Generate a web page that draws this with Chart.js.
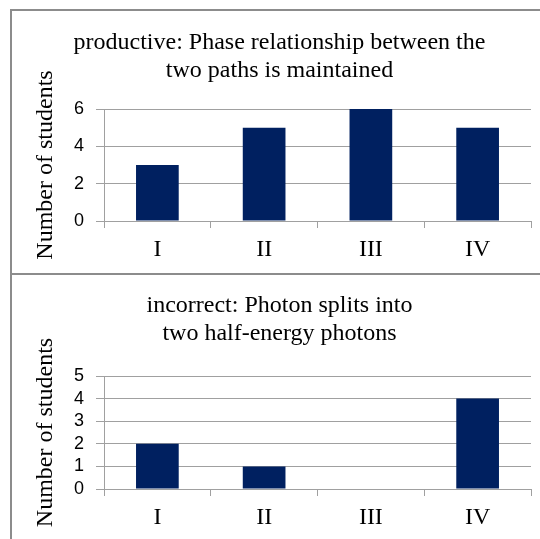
<!DOCTYPE html>
<html>
<head>
<meta charset="utf-8">
<script src="https://cdn.jsdelivr.net/npm/chart.js@4/dist/chart.umd.min.js"></script>
<style>
  body { margin: 0; background: #fff; overflow: hidden; width: 540px; height: 539px; position: relative; }
  .panel { position: absolute; left: 10px; width: 560px; border-left: 2px solid #8c8c8c; border-top: 2px solid #8c8c8c; }
  #topPanel { top: 9px; height: 262px; }
  #bottomPanel { top: 273px; height: 264px; }
  canvas { display: block; }
</style>
</head>
<body>
<div class="panel" id="topPanel"><canvas id="productive-chart" width="528" height="262"></canvas></div>
<div class="panel" id="bottomPanel"><canvas id="incorrect-chart" width="528" height="264"></canvas></div>
<script>
const categories = ['I', 'II', 'III', 'IV'];

const productiveTitle = ['productive: Phase relationship between the', 'two paths is maintained'];
const productiveCounts = [3, 5, 6, 5];
const productiveTicks = [0, 2, 4, 6];

const incorrectTitle = ['incorrect: Photon splits into', 'two half-energy photons'];
const incorrectCounts = [2, 1, 0, 4];
const incorrectTicks = [0, 1, 2, 3, 4, 5];

const yTitle = 'Number of students';

document.addEventListener("DOMContentLoaded", mainJs);

function makeChart(id, titleLines, counts, tickValues, titlePad, xHeight){
    const ctx = document.getElementById(id);
    new Chart(ctx, {
        type: 'bar',
        data: {
            labels: categories,
            datasets: [{
                data: counts,
                backgroundColor: '#002060',
                borderWidth: 0,
                barPercentage: 0.4,
                categoryPercentage: 1.0
            }]
        },
        options: {
            responsive: false,
            animation: false,
            layout: { padding: { left: 16, right: 9, top: 0, bottom: 0 } },
            plugins: {
                legend: { display: false },
                tooltip: { enabled: false },
                title: {
                    display: true,
                    text: titleLines,
                    color: '#000',
                    font: { family: 'Liberation Serif', size: 24, weight: 'normal', lineHeight: 1.167 },
                    padding: titlePad
                }
            },
            scales: {
                x: {
                    offset: true,
                    grid: {
                        offset: true,
                        drawOnChartArea: true,
                        color: (c) => c.index === categories.length ? '#c0c0c0' : 'rgba(0,0,0,0)',
                        tickColor: '#a0a0a0',
                        tickLength: 7
                    },
                    border: { display: true, color: '#a0a0a0' },
                    ticks: {
                        color: '#000',
                        padding: 7,
                        font: { family: 'Liberation Serif', size: 24 }
                    },
                    afterFit: (s) => { s.height = xHeight; }
                },
                y: {
                    min: tickValues[0],
                    max: tickValues[tickValues.length - 1],
                    afterBuildTicks: (s) => { s.ticks = tickValues.map(v => ({ value: v })); },
                    grid: { color: '#a0a0a0', tickLength: 8 },
                    border: { display: true, color: '#a0a0a0' },
                    ticks: {
                        color: '#000',
                        padding: 12,
                        autoSkip: false,
                        font: { family: 'Liberation Sans', size: 18 }
                    },
                    title: {
                        display: true,
                        text: yTitle,
                        color: '#000',
                        padding: { top: 3, bottom: 0 },
                        font: { family: 'Liberation Serif', size: 24 }
                    },
                    afterFit: (s) => { s.width = 76; }
                }
            }
        }
    });
}

function mainJs(){
    makeChart('productive-chart', productiveTitle, productiveCounts, productiveTicks, { top: 18, bottom: 24 }, 52);
    makeChart('incorrect-chart', incorrectTitle, incorrectCounts, incorrectTicks, { top: 17, bottom: 28 }, 50);
}
</script>
</body>
</html>
